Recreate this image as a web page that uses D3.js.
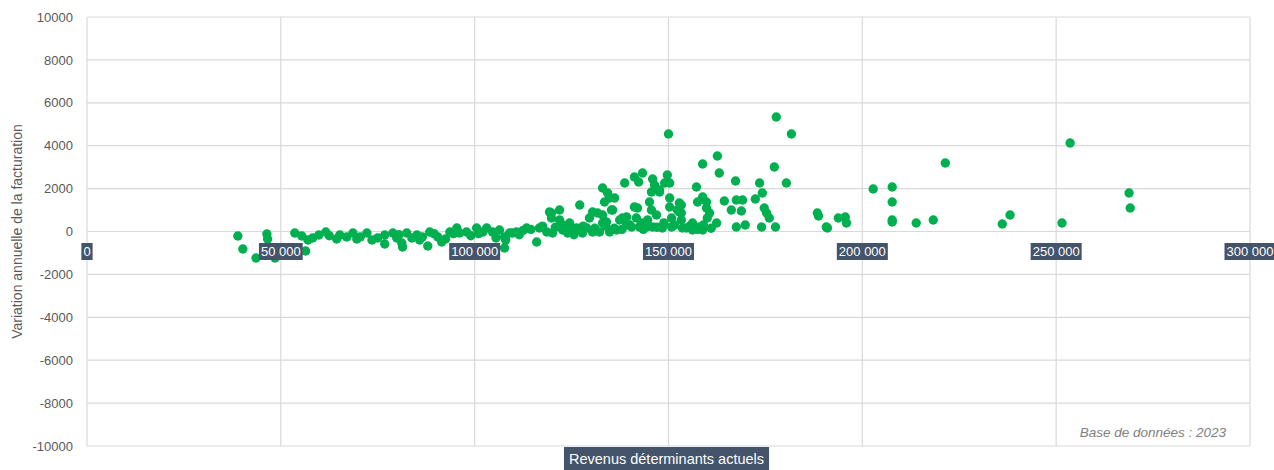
<!DOCTYPE html>
<html><head><meta charset="utf-8">
<script src="https://cdn.jsdelivr.net/npm/d3@7"></script>
<style>body{margin:0;background:#fff}svg{display:block}</style>
</head><body>
<script>
const xTicks = [0, 50000, 100000, 150000, 200000, 250000, 300000];
const yTicks = [-10000, -8000, -6000, -4000, -2000, 0, 2000, 4000, 6000, 8000, 10000];
const xTitle = "Revenus déterminants actuels";
const yTitle = "Variation annuelle de la facturation";
const note = "Base de données : 2023";
// [revenu déterminant, variation annuelle]
const points = [
[38900,-210],[40200,-816],[43600,-1235],[46400,-117],[46600,-350],[48500,-1235],
[53600,-70],[55400,-210],[56400,-909],[57000,-396],[58200,-303],[59800,-163],[61600,-23],
[64400,-350],[65200,-163],[67000,-256],[68600,-70],[69600,-350],[72200,-70],[73500,-396],
[76800,-163],[76800,-583],[78900,-70],[79900,-303],[81200,-536],[82500,-70],[83800,-303],[85100,-163],[85800,-396],[87900,-676],[88400,-23],[90500,-256],[91500,-490],[93600,-23],[95400,163],[96100,-70],[97900,-23],[100500,163],[102100,-23],[103100,163],[104600,-23],[106400,70],[107700,-256],[107700,-769],[109000,-70],[110800,-23],
[62500,-200],[70500,-250],[75000,-300],[80500,-150],[86500,-250],[89500,-100],[92500,-350],[94500,-100],[99000,-200],[101000,-100],[105500,-300],[108000,-400],[111500,-150],[112500,50],[81400,-723],
[109800,-70],[113400,163],[116000,-490],[116700,163],[118600,-23],[119300,909],[119800,863],[119800,629],[120100,-70],[121900,1002],[121900,536],[122700,70],[123700,163],[124000,-70],[124500,396],[126300,163],[127100,1235],[127800,-70],[128900,163],[129600,629],[130400,909],[130400,-23],[131700,862],[133000,769],[133000,396],[132200,-23],[133000,2028],[134300,1795],[134800,1562],[133500,1375],[134800,-23],[136600,70],[134000,443],[135300,1002],[135600,1002],[136100,1562],[137400,536],[138100,629],[138700,2261],[139200,676],[139200,303],[140500,210],[141200,2541],[141200,1142],[141700,629],[142000,1096],[142300,2308],[142500,210],[143000,396],[143300,2727],[144300,210],[144600,536],[145100,1375],[145600,1002],[145600,1841],[145900,2448],[145900,210],[146400,2168],[146900,769],[147700,1841],[147700,1934],[148400,163],[149000,2261],[149700,2634],[150000,4545],[150300,2261],[150300,1562],[150300,1142],[150800,629],[150800,210],[152800,1329],[152800,909],[152300,1002],[153300,1235],[153300,862],[153300,536],[153600,163],[154600,163],[156200,396],[156200,70],[157200,2075],[157500,1375],[158000,210],[158800,1608],[158800,70],[159800,1096],[159800,1375],[160000,629],[160600,862],[162400,396],[162600,3520],[158800,3147],[163100,2727],[164400,1422],[166200,1002],[167300,2354],[167500,1469],[167500,210],[168800,956],[169100,1469],[169800,303],[172400,1515],[173500,2261],[174000,210],[174200,1795],[174700,1096],[175300,862],[176000,629],[177300,3007],[177600,210],[177800,5338],[180400,2261],[181700,4545],
[114500,100],[117500,250],[120800,200],[125000,150],[128000,250],[131000,150],[133800,250],[136000,150],[138000,100],[140000,300],[143500,100],[147000,200],[148800,400],[151500,300],[155500,250],[157500,100],[159000,300],[161000,150],[122700,303],[125600,-150],
[188400,862],[188700,723],[190700,210],[191000,163],[193800,629],[195600,676],[195900,396],[202800,1981],[207700,2075],[207700,1375],[207700,536],[207700,443],[213900,396],[218300,536],[221400,3193],[236100,350],[238100,769],[251500,396],[253600,4126],[268800,1795],[269100,1096]
];

const W = 1274, H = 470;
const svg = d3.select("body").append("svg").attr("width", W).attr("height", H)
  .style("font-family", "'Liberation Sans', Arial, sans-serif");
const x = d3.scaleLinear().domain([0, 300000]).range([87, 1250]);
const y = d3.scaleLinear().domain([-10000, 10000]).range([446, 17]);

// grid
svg.append("g").selectAll("line").data(yTicks).join("line")
  .attr("x1", x(0)).attr("x2", x(300000)).attr("y1", d => y(d)).attr("y2", d => y(d))
  .attr("stroke", "#d9d9d9").attr("stroke-width", 1.2);
svg.append("g").selectAll("line").data(xTicks).join("line")
  .attr("x1", d => x(d)).attr("x2", d => x(d)).attr("y1", y(10000)).attr("y2", y(-10000))
  .attr("stroke", "#d9d9d9").attr("stroke-width", 1.2);

// y axis labels
const yAxis = d3.axisLeft(y).tickValues(yTicks).tickSize(0).tickPadding(14).tickFormat(d => String(d));
const ya = svg.append("g").attr("transform", `translate(${x(0)},0)`).call(yAxis);
ya.select(".domain").remove();
ya.selectAll("text").attr("fill", "#595959").style("font-size", "13px")
  .style("font-family", "'Liberation Sans', Arial, sans-serif");

// points
svg.append("g").selectAll("circle").data(points).join("circle")
  .attr("cx", d => x(d[0])).attr("cy", d => y(d[1])).attr("r", 4.7)
  .attr("fill", "#00b050");

// x tick labels in boxes
const fmt = d => d3.format(",")(d).replace(/,/g, " ");
const xg = svg.append("g").selectAll("g").data(xTicks).join("g")
  .attr("transform", d => `translate(${x(d)},${y(0) + 20})`);
xg.append("rect").attr("fill", "#44546a");
xg.append("text").text(fmt).attr("text-anchor", "middle").attr("dy", "0.35em")
  .attr("fill", "#fff").style("font-size", "13px");
xg.each(function() {
  const g = d3.select(this);
  const b = g.select("text").node().getBBox();
  g.select("rect").attr("x", b.x - 2).attr("y", -8.5).attr("width", b.width + 4).attr("height", 17);
});

// y title
svg.append("text").attr("transform", `translate(22,${(y(10000)+y(-10000))/2}) rotate(-90)`)
  .attr("text-anchor", "middle").attr("fill", "#595959").style("font-size", "14px").text(yTitle);

// x title box
const xt = svg.append("g").attr("transform", `translate(${(x(0)+x(300000))/2 - 2},458.5)`);
xt.append("rect").attr("fill", "#44546a");
const xtt = xt.append("text").text(xTitle).attr("text-anchor", "middle").attr("dy", "0.35em")
  .attr("fill", "#fff").style("font-size", "14.5px");
const xb = xtt.node().getBBox();
xt.select("rect").attr("x", xb.x - 5).attr("y", -11.5).attr("width", xb.width + 10).attr("height", 24);

// note
svg.append("text").attr("x", 1226).attr("y", 437).attr("text-anchor", "end")
  .attr("fill", "#7f7f7f").style("font-size", "13.5px").style("font-style", "italic").text(note);
</script>
</body></html>
